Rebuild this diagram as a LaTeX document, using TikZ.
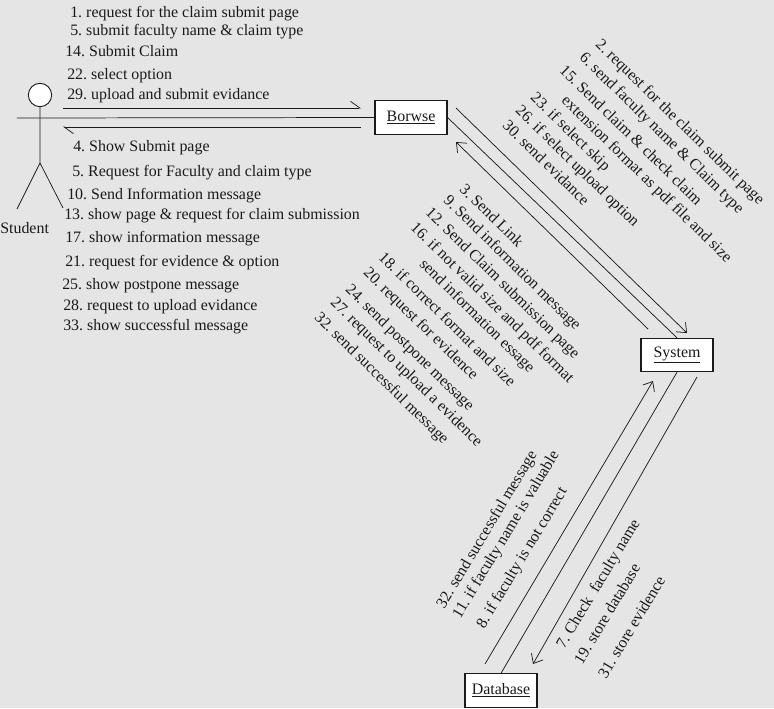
\documentclass[tikz,border=0pt]{standalone}
\usepackage{fontspec}
\setmainfont{Liberation Serif}
\usetikzlibrary{arrows.meta}
\definecolor{bg}{HTML}{E5E5E5}
\definecolor{ink}{HTML}{1A1A1A}
\tikzset{
  lbl/.style={anchor=west,inner sep=0pt,text=ink,font=\frenchspacing\fontsize{11.95pt}{14pt}\selectfont,text height=10.7pt,text depth=2pt},
  dn/.style={lbl,rotate=-44.3,text height=9.2pt},
  up/.style={lbl,rotate=59,text height=9.2pt},
  obj/.style={draw=ink,fill=white,line width=0.8pt,minimum width=54pt,minimum height=25pt,inner sep=0pt,text=ink,font=\fontsize{11.95pt}{14pt}\selectfont},
  wire/.style={draw=ink,line width=0.55pt},
  head/.style={-{Straight Barb[length=6pt,width=10pt,line width=0.55pt]}},
  headL/.style={-{Straight Barb[left,length=7pt,width=10pt,line width=0.55pt]}}
}
\begin{document}
\begin{tikzpicture}[x=0.75pt,y=-0.75pt]
\useasboundingbox[fill=bg] (0,0) rectangle (774,708);

% boxes
\node[obj] (browse) at (411,117.5) {\underline{Borwse}};
\node[obj] (system) at (677,355) {\underline{System}};
\node[obj] (dbase) at (501,690.5) {\underline{Database}};

% actor
\node[draw=ink,fill=white,circle,line width=0.7pt,minimum size=17.5pt,inner sep=0pt] (hd) at (40,95) {};
\coordinate (hip) at (40,163);
\coordinate (lfoot) at (17,209);
\coordinate (rfoot) at (63,208);
\coordinate (armL) at (17,118);
\draw[wire] (hd.south) -- (hip) (lfoot) -- (hip) -- (rfoot);
\draw[wire] (armL) -- (browse.west);
\node[lbl] (student) at (0,228) {Student};

% actor <-> Borwse
\coordinate (a1) at (63,108); \coordinate (a2) at (361,108);
\coordinate (a3) at (361,127); \coordinate (a4) at (63,127);
\draw[wire,headL] (a1) -- (a2);
\draw[wire,headL] (a3) -- (a4);

% Borwse <-> System
\coordinate (b1) at (456,108); \coordinate (b2) at (687,333);
\coordinate (b3) at (648,329); \coordinate (b4) at (456,142);
\draw[wire,head] (b1) -- (b2);
\draw[wire] (browse.east) -- (system.north);
\draw[wire,head] (b3) -- (b4);

% System <-> Database
\coordinate (c1) at (485,664); \coordinate (c2) at (653,381);
\coordinate (c3) at (697,377); \coordinate (c4) at (533,664);
\draw[wire,head] (c1) -- (c2);
\draw[wire] (system.south) -- (dbase.north);
\draw[wire,head] (c3) -- (c4);

% labels actor to Borwse
\node[lbl] (t1) at (70,12) {1. request for the claim submit page};
\node[lbl] (t2) at (70,30) {5. submit faculty name \& claim type};
\node[lbl] (t3) at (65,51) {14. Submit Claim};
\node[lbl] (t4) at (67,74) {22. select option};
\node[lbl] (t5) at (67,94) {29. upload and submit evidance};
% labels Borwse to actor
\node[lbl] (s1) at (73,146) {4. Show Submit page};
\node[lbl] (s2) at (72,171) {5. Request for Faculty and claim type};
\node[lbl] (s3) at (67,194) {10. Send Information message};
\node[lbl] (s4) at (64,214) {13. show page \& request for claim submission};
\node[lbl] (s5) at (65,237) {17. show information message};
\node[lbl] (s6) at (65,261) {21. request for evidence \& option};
\node[lbl] (s7) at (62,284) {25. show postpone message};
\node[lbl] (s8) at (63,305) {28. request to upload evidance};
\node[lbl] (s9) at (63,325) {33. show successful message};

% labels Borwse to System
\node[dn] (u1) at (598,42) {2. request for the claim submit page};
\node[dn] (u2) at (582,55) {6. send faculty name \& Claim type};
\node[dn] (u3) at (562,68) {15. Send claim \& check claim};
\node[dn] (u4) at (564,98) {extension format as pdf file and size};
\node[dn] (u5) at (533,95) {23. if select skip};
\node[dn] (u6) at (518,108) {26. if select upload option};
\node[dn] (u7) at (505,123) {30. send evidance};

% labels System to Borwse
\node[dn] (v1) at (462,187) {3. Send Link};
\node[dn] (v2) at (446,198) {9. Send information message};
\node[dn] (v3) at (428,210) {12. Send Claim submission page};
\node[dn] (v4) at (413,225) {16. if not valid size and pdf format};
\node[dn] (v5) at (422,262) {send information essage};
\node[dn] (v6) at (381,255) {18. if correct format and size};
\node[dn] (v7) at (366,270) {20. request for evidence};
\node[dn] (v8) at (348,287) {24. send postpone message};
\node[dn] (v9) at (333,300) {27. request to upload a evidence};
\node[dn] (v10) at (317,315) {32. send successful message};

% labels Database to System
\node[up] (w1) at (440,607) {32. send successful message};
\node[up] (w2) at (456,617) {11. if faculty name is valuable};
\node[up] (w3) at (480,627) {8. if faculty is not correct};

% labels System to Database
\node[up] (x1) at (560,647) {7. Check~ faculty name};
\node[up] (x2) at (578,663) {19. store database};
\node[up] (x3) at (602,677) {31. store evidence};
\end{tikzpicture}
\end{document}
